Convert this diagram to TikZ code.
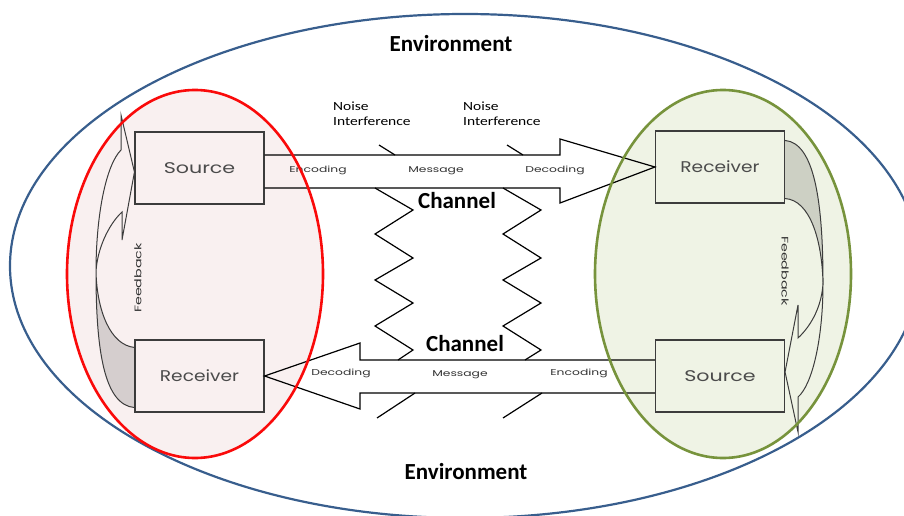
\documentclass[tikz,border=0pt]{standalone}
\usepackage{fontspec}
\setmainfont{Carlito}
\newfontfamily\gfont{Poppins}
\usetikzlibrary{calc}
\definecolor{envblue}{RGB}{56,94,141}
\definecolor{ered}{RGB}{250,10,10}
\definecolor{egreen}{RGB}{119,147,60}
\definecolor{pinkfill}{RGB}{249,240,240}
\definecolor{greenfill}{RGB}{239,243,229}
\definecolor{boxline}{RGB}{60,60,60}
\definecolor{boxtext}{RGB}{75,75,75}
\definecolor{lbltext}{RGB}{50,50,50}
\newcommand{\wtx}[2]{\scalebox{#1}[1]{#2}}
\begin{document}
\begin{tikzpicture}[x=1pt,y=-1pt,
  box/.style={draw=boxline, line width=1.1pt, minimum width=129pt, minimum height=72pt, inner sep=0pt,
    font=\gfont\fontsize{15.5}{15.5}\selectfont, text=boxtext},
  blockarrow/.style={draw=black, line width=1.2pt, line join=miter},
  zig/.style={draw=black, line width=1.2pt, line join=miter},
  fbline/.style={draw=boxline, line width=1pt},
  fbgray/.style={fill=black, fill opacity=0.14},
  lbl/.style={font=\gfont\fontsize{8.5}{8.5}\selectfont, text=lbltext, inner sep=0pt},
  big/.style={font=\bfseries\fontsize{23}{23}\selectfont, text=black, inner sep=0pt},
  noise/.style={font=\fontsize{12.5}{15}\selectfont, text=black, align=left, anchor=north west, inner sep=0pt},
  fbtext/.style={font=\gfont\fontsize{9.5}{9.5}\selectfont, text=lbltext, inner sep=0pt}
]
\useasboundingbox (0,0) rectangle (904,516);
\clip (0,0) rectangle (904,516);

% environment
\draw[envblue, line width=2.2pt] (465,266) ellipse [x radius=455pt, y radius=252pt];

% ellipse fills
\fill[pinkfill] (195,274) ellipse [x radius=128pt, y radius=184pt];
\fill[greenfill] (723,274) ellipse [x radius=128pt, y radius=184pt];

% boxes
\node[box] (srcL) at (199.5,168) {\wtx{1.33}{Source}};
\node[box] (rcvL) at (199.5,376) {\wtx{1.2}{Receiver}};
\node[box] (rcvR) at (720,167) {\wtx{1.2}{Receiver}};
\node[box] (srcR) at (720,376) {\wtx{1.33}{Source}};

% feedback gray faces
\fill[fbgray] ($(rcvL.south west)+(0,-5)$) .. controls (104,405) and (96,350) .. (96,272)
   .. controls (97,310) and (110,345) .. ($(rcvL.north west)+(0,8)$) -- cycle;
\fill[fbgray] ($(rcvR.north east)+(0,10)$) .. controls (814,143) and (823,200) .. (823,283)
   .. controls (822,240) and (810,200) .. ($(rcvR.south east)+(0,-5)$) -- cycle;

% feedback outlines
\draw[fbline] ($(rcvL.south west)+(0,-5)$) .. controls (104,405) and (96,350) .. (96,272)
   .. controls (96,215) and (106,165) .. (121,150) -- (121,115) -- (srcL.west |- 0,172) -- (122,240) -- (122,212)
   .. controls (108,225) and (97,250) .. (96,272)
   .. controls (97,310) and (110,345) .. ($(rcvL.north west)+(0,8)$);
\draw[fbline] ($(rcvR.north east)+(0,10)$) .. controls (814,143) and (823,200) .. (823,283)
   .. controls (823,340) and (812,385) .. (798,397) -- (798,432) -- (srcR.east |- 0,372) -- (798,305) -- (798,338)
   .. controls (812,325) and (822,305) .. (823,283)
   .. controls (822,240) and (810,200) .. ($(rcvR.south east)+(0,-5)$);

% top block arrow
\draw[blockarrow] (srcL.east |- 0,155) -- (560,155) -- (560,139) -- (rcvR.west) -- (560,203) -- (560,188) -- (srcL.east |- 0,188);
% bottom block arrow
\draw[blockarrow] (srcR.west |- 0,360) -- (360,360) -- (360,343) -- (rcvL.east) -- (360,409) -- (360,393) -- (srcR.west |- 0,393);

% noise ticks
\coordinate (tA) at (379,145); \coordinate (tA2) at (395,155);
\coordinate (tB) at (507,145); \coordinate (tB2) at (523,155);
\draw[zig] (tA) -- (tA2);
\draw[zig] (tB) -- (tB2);
\coordinate (bA) at (415,393); \coordinate (bA2) at (377,418);
\coordinate (bB) at (542,393); \coordinate (bB2) at (503,418);
\draw[zig] (bA) -- (bA2);
\draw[zig] (bB) -- (bB2);

% zigzags
\draw[zig] (375,188) -- (413,210) -- (375,234) -- (413,258) -- (375,280) -- (413,303) -- (375,326) -- (413,350) -- (398,360);
\draw[zig] (503,188) -- (541,210) -- (503,234) -- (541,258) -- (503,280) -- (541,303) -- (503,326) -- (541,350) -- (525,360);

% arrow labels
\node[lbl] (encT) at (318,170) {\wtx{1.45}{Encoding}};
\node[lbl] (msgT) at (436,171) {\wtx{1.45}{Message}};
\node[lbl] (decT) at (555,170) {\wtx{1.45}{Decoding}};
\node[lbl] (decB) at (341,373) {\wtx{1.45}{Decoding}};
\node[lbl] (msgB) at (460,375) {\wtx{1.45}{Message}};
\node[lbl] (encB) at (579,373) {\wtx{1.45}{Encoding}};

% feedback labels
\node[fbtext, rotate=90] (fbL) at (138,278) {\wtx{1.5}{Feedback}};
\node[fbtext, rotate=-90] (fbR) at (785,271) {\wtx{1.5}{Feedback}};

% noise labels
\node[noise] (noiseA) at (333,102) {\wtx{1.24}{Noise}\\\wtx{1.24}{Interference}};
\node[noise] (noiseB) at (463,102) {\wtx{1.24}{Noise}\\\wtx{1.24}{Interference}};

% big labels
\node[big] (envT) at (451,44) {Environment};
\node[big] (envB) at (466,472) {Environment};
\node[big] (chT) at (457,201) {Channel};
\node[big] (chB) at (465,344) {Channel};

% ellipse outlines on top
\draw[ered, line width=2.6pt] (195,274) ellipse [x radius=128pt, y radius=184pt];
\draw[egreen, line width=2.6pt] (723,274) ellipse [x radius=128pt, y radius=184pt];
\end{tikzpicture}
\end{document}
